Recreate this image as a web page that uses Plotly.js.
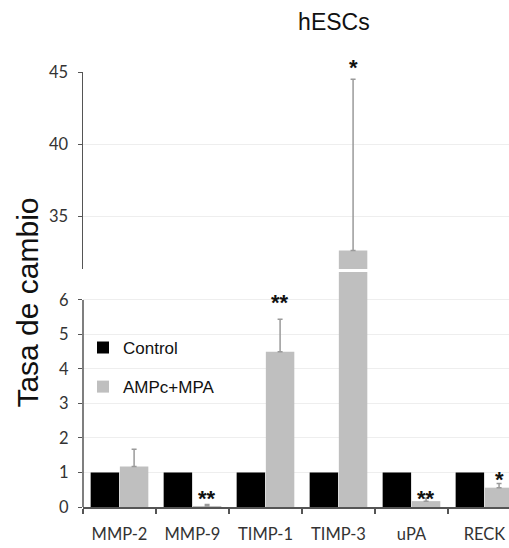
<!DOCTYPE html>
<html>
<head>
<meta charset="utf-8">
<script src="https://cdn.plot.ly/plotly-3.0.1.min.js"></script>
<style>html,body{margin:0;padding:0;background:#fff;}#chart{width:509px;height:548px;}</style>
</head>
<body>
<div id="chart"></div>
<script>
const categories = ['MMP-2', 'MMP-9', 'TIMP-1', 'TIMP-3', 'uPA', 'RECK'];
const controlValues = [1, 1, 1, 1, 1, 1];
const treatedValues = [1.17, 0.03, 4.50, 32.6, 0.17, 0.56];
const treatedErrorTop = [1.67, 0.07, 5.44, 44.5, 0.25, 0.68];
const significance = ['', '**', '**', '*', '**', '*'];
const significanceY = [null, 0.43, 6.09, 45.7, 0.43, 0.98];
const lowerTicks = [0, 1, 2, 3, 4, 5, 6];
const upperTicks = [35, 40, 45];
const lowerMax = 6.81;
const upperMin = 31.32;
const upperMax = 45;

const lowerDomain = [0, 0.5402];
const upperDomain = [0.5471, 1];

const axisColor = '#555555';
const tickFont = {family: 'Lato, "Open Sans", sans-serif', size: 16.5, color: '#333333'};
const arial = '"Liberation Sans", Arial, sans-serif';

const errLower = treatedValues.map((v, i) => treatedErrorTop[i] <= lowerMax ? treatedErrorTop[i] - v : 0);
const errUpper = treatedValues.map((v, i) => treatedErrorTop[i] - v);

const barW = 0.39;
const errStyle = (arr) => ({type: 'data', array: arr, symmetric: false, arrayminus: arr.map(() => 0),
  color: '#9a9a9a', thickness: 1.5, width: 2.5});

const traces = [
  {type: 'bar', name: 'Control', x: categories, y: controlValues, xaxis: 'x', yaxis: 'y',
   width: barW, offset: -0.395, marker: {color: '#000000'}, legendgroup: 'c'},
  {type: 'bar', name: 'AMPc+MPA', x: categories, y: treatedValues, xaxis: 'x', yaxis: 'y',
   width: barW, offset: 0.005, marker: {color: '#bfbfbf', line: {width: 0}},
   error_y: errStyle(errLower), legendgroup: 't'},
  {type: 'bar', name: 'Control', x: categories, y: controlValues, xaxis: 'x', yaxis: 'y2',
   width: barW, offset: -0.395, marker: {color: '#000000'}, showlegend: false},
  {type: 'bar', name: 'AMPc+MPA', x: categories, y: treatedValues, xaxis: 'x', yaxis: 'y2',
   width: barW, offset: 0.005, marker: {color: '#bfbfbf'},
   error_y: errStyle(errUpper), showlegend: false}
];

// convert a data value on the broken axis into paper coordinates
function toPaper(v) {
  if (v <= lowerMax) return lowerDomain[0] + (v / lowerMax) * (lowerDomain[1] - lowerDomain[0]);
  return upperDomain[0] + (v - upperMin) / (upperMax - upperMin) * (upperDomain[1] - upperDomain[0]);
}

const annotations = [];
significance.forEach((s, i) => {
  if (!s) return;
  annotations.push({text: s, x: i + 0.2, xref: 'x', y: toPaper(significanceY[i]), yref: 'paper',
    showarrow: false, xanchor: 'center', yanchor: 'middle', yshift: -6,
    font: {family: arial, size: 22, color: '#111111', weight: 'bold'}});
});
annotations.push({text: 'Tasa de cambio', textangle: -90, x: -0.129, xref: 'paper', y: 0.47, yref: 'paper',
  showarrow: false, xanchor: 'center', yanchor: 'middle', font: {family: arial, size: 30, color: '#111111'}});

const layout = {
  width: 509, height: 548,
  margin: {l: 83, r: 0, t: 72, b: 41, pad: 0},
  paper_bgcolor: '#ffffff', plot_bgcolor: '#ffffff',
  title: {text: 'hESCs', x: 0.656, xref: 'container', xanchor: 'center', y: 0.96, yref: 'container', yanchor: 'middle',
    font: {family: arial, size: 23, color: '#111111'}},
  showlegend: true,
  legend: {x: 0.0, xanchor: 'left', y: 0.407, yanchor: 'top', bgcolor: 'rgba(0,0,0,0)',
    traceorder: 'grouped', tracegroupgap: 14, itemwidth: 30,
    font: {family: arial, size: 17, color: '#111111'}},
  xaxis: {type: 'category', range: [-0.5, 5.336], showline: true, linecolor: axisColor, linewidth: 1.5,
    ticks: 'outside', tickson: 'boundaries', ticklen: 5, tickcolor: axisColor, tickwidth: 1.5,
    tickfont: tickFont, ticklabelstandoff: 12, anchor: 'y', showgrid: false, zeroline: false, fixedrange: true},
  yaxis: {domain: lowerDomain, range: [0, lowerMax], tickvals: lowerTicks, showgrid: true, gridcolor: '#eeeeee',
    ticks: 'outside', ticklen: 4, tickcolor: axisColor, showline: false, zeroline: false, tickfont: tickFont,
    ticklabelstandoff: 6, anchor: 'x', fixedrange: true},
  yaxis2: {domain: upperDomain, range: [upperMin, upperMax], tickvals: upperTicks, showgrid: true, gridcolor: '#eeeeee',
    ticks: 'outside', ticklen: 4, tickcolor: axisColor, showline: true, linecolor: axisColor, linewidth: 1.5,
    zeroline: false, tickfont: tickFont, ticklabelstandoff: 6, anchor: 'x', fixedrange: true},
  shapes: [{type: 'line', xref: 'paper', x0: 0, x1: 0, yref: 'y', y0: lowerTicks[0], y1: lowerTicks[lowerTicks.length - 1],
    line: {color: axisColor, width: 1.5}}],
  annotations: annotations,
  bargap: 0.2
};

Plotly.newPlot('chart', traces, layout, {displayModeBar: false, staticPlot: true});
</script>
</body>
</html>
